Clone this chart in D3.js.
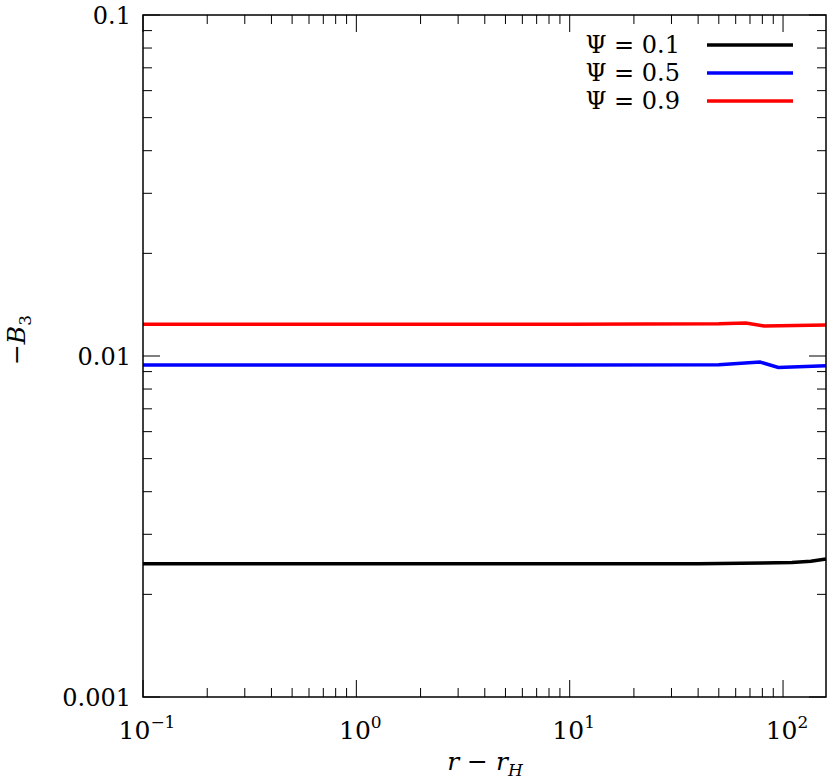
<!DOCTYPE html>
<html>
<head>
<meta charset="UTF-8">
<style>
  body { margin: 0; background: #fff; }
</style>
</head>
<body>
<svg id="chart" width="830" height="782" font-family="'DejaVu Serif', serif"></svg>
<script src="https://d3js.org/d3.v7.min.js"></script>
<script>
// data
const seriesNames = ["Ψ = 0.1", "Ψ = 0.5", "Ψ = 0.9"];
const seriesColors = ["#000000", "#0000ff", "#ff0000"];
const xBlack = [0.1, 1, 10, 40, 80, 110, 135, 159];
const yBlack = [0.00246, 0.00246, 0.00246, 0.00246, 0.00247, 0.00248, 0.0025, 0.00254];
const xBlue = [0.1, 1, 10, 50, 78, 95, 159];
const yBlue = [0.00941, 0.00941, 0.00941, 0.00942, 0.00960, 0.00925, 0.00937];
const xRed = [0.1, 1, 10, 50, 67, 81.5, 159];
const yRed = [0.0124, 0.0124, 0.0124, 0.01243, 0.01250, 0.01225, 0.01233];
const xTicks = [0.1, 1, 10, 100];
const xTickLabels = ["−1", "0", "1", "2"];
const yTicks = [0.001, 0.01, 0.1];
const yTickLabels = ["0.001", "0.01", "0.1"];

const svg = d3.select("#chart");
const L = 143, R = 826, T = 15, B = 697;

const x = d3.scaleLog().domain([0.1, 159]).range([L, R]);
const y = d3.scaleLog().domain([0.001, 0.1]).range([B, T]);

// minor ticks
const minorX = [];
[0.1, 1, 10, 100].forEach(d => { for (let k = 2; k <= 9; k++) if (d * k <= 159) minorX.push(d * k); });
const minorY = [];
[0.001, 0.01].forEach(d => { for (let k = 2; k <= 9; k++) minorY.push(d * k); });

const g = svg.append("g").attr("stroke", "#000").attr("stroke-width", 1);
minorX.forEach(v => {
  g.append("line").attr("x1", x(v)).attr("x2", x(v)).attr("y1", B).attr("y2", B - 9);
  g.append("line").attr("x1", x(v)).attr("x2", x(v)).attr("y1", T).attr("y2", T + 9);
});
xTicks.forEach(v => {
  g.append("line").attr("x1", x(v)).attr("x2", x(v)).attr("y1", B).attr("y2", B - 17);
  g.append("line").attr("x1", x(v)).attr("x2", x(v)).attr("y1", T).attr("y2", T + 17);
});
minorY.forEach(v => {
  g.append("line").attr("x1", L).attr("x2", L + 9).attr("y1", y(v)).attr("y2", y(v));
  g.append("line").attr("x1", R).attr("x2", R - 9).attr("y1", y(v)).attr("y2", y(v));
});
yTicks.forEach(v => {
  g.append("line").attr("x1", L).attr("x2", L + 17).attr("y1", y(v)).attr("y2", y(v));
  g.append("line").attr("x1", R).attr("x2", R - 17).attr("y1", y(v)).attr("y2", y(v));
});

// x tick labels 10^n
xTicks.forEach((v, i) => {
  const t = svg.append("text").attr("x", x(v) + 4).attr("y", B + 42)
    .attr("text-anchor", "middle").attr("font-size", 25);
  t.append("tspan").text("10");
  t.append("tspan").attr("dy", -11).attr("font-size", 17).text(xTickLabels[i]);
});
yTicks.forEach((v, i) => {
  svg.append("text").attr("x", L - 12).attr("y", y(v) + 9)
    .attr("text-anchor", "end").attr("font-size", 24).text(yTickLabels[i]);
});

// axis labels
const xl = svg.append("text").attr("x", 485).attr("y", 770).attr("text-anchor", "middle").attr("font-size", 25);
xl.append("tspan").attr("font-style", "italic").text("r");
xl.append("tspan").text(" − ");
xl.append("tspan").attr("font-style", "italic").text("r");
xl.append("tspan").attr("font-style", "italic").attr("font-size", 17).attr("dy", 6).text("H");

const yl = svg.append("text").attr("transform", "translate(25,340) rotate(-90)")
  .attr("text-anchor", "middle").attr("font-size", 25);
yl.append("tspan").text("−");
yl.append("tspan").attr("font-style", "italic").text("B");
yl.append("tspan").attr("font-size", 17).attr("dy", 6).text("3");

// curves
const line = d3.line().x(d => x(d[0])).y(d => y(d[1]));
const series = [[xBlack, yBlack], [xBlue, yBlue], [xRed, yRed]];
series.forEach((s, i) => {
  svg.append("path").datum(s[0].map((v, j) => [v, s[1][j]]))
    .attr("d", line).attr("fill", "none")
    .attr("stroke", seriesColors[i]).attr("stroke-width", 3.5);
});

// legend
seriesNames.forEach((n, i) => {
  const ly = 45 + i * 28;
  svg.append("text").attr("x", 680).attr("y", ly + 8).attr("text-anchor", "end")
    .attr("font-size", 24).text(n);
  svg.append("line").attr("x1", 707).attr("x2", 793).attr("y1", ly).attr("y2", ly)
    .attr("stroke", seriesColors[i]).attr("stroke-width", 3.5);
});

// frame
svg.append("rect").attr("x", L).attr("y", T).attr("width", R - L).attr("height", B - T)
  .attr("fill", "none").attr("stroke", "#000").attr("stroke-width", 1.5);
</script>
</body>
</html>
